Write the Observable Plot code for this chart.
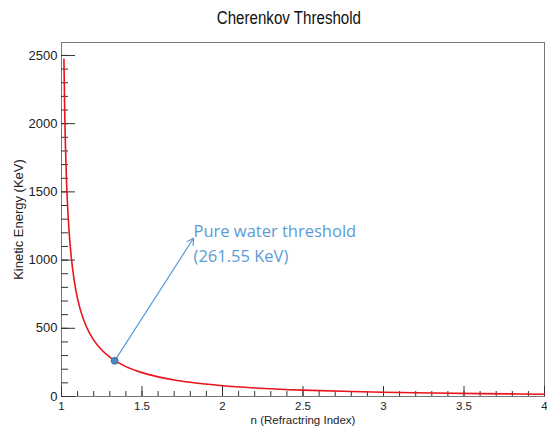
<!DOCTYPE html>
<html><head><meta charset="utf-8">
<script src="https://cdn.jsdelivr.net/npm/d3@7"></script>
<script src="https://cdn.jsdelivr.net/npm/@observablehq/plot@0.6"></script>
<style>
body{margin:0;background:#fff;}
#title{height:30px;line-height:36px;text-align:center;font-family:"Liberation Sans",Arial,sans-serif;font-size:18px;color:#111;padding-left:30px;}
#title span{display:inline-block;transform:scaleX(0.84);}
</style></head><body>
<div id="title"><span>Cherenkov Threshold</span></div>
<div id="chart"></div>
<script>
// Curve values (n, kinetic energy in KeV)
const refractiveIndex = [1.015, 1.02, 1.03, 1.04, 1.05, 1.06, 1.08, 1.1, 1.12, 1.15, 1.2, 1.25, 1.3, 1.35, 1.4, 1.5, 1.6, 1.7, 1.8, 2.0, 2.2, 2.5, 2.8, 3.0, 3.3, 3.6, 4.0];
const kineticEnergy   = [2472, 2082, 1622, 1349, 1165, 1030, 842, 716, 624, 524, 413, 341, 289, 250, 219, 175, 144, 121, 104, 79, 62.7, 46.5, 36.1, 31.0, 25.2, 20.9, 16.8];

const xTicks = [1, 1.5, 2, 2.5, 3, 3.5, 4];
const xMinorTicks = d3.range(1, 4.001, 0.1);
const yTicks = [0, 500, 1000, 1500, 2000, 2500];
const yMinorTicks = d3.range(0, 2501, 100);

// Annotation
const waterN = [1.33];
const waterT = [261.55];
const arrowTipN = [1.82];
const arrowTipT = [1160];
const noteLines = ["Pure water threshold\n(261.55 KeV)"];
const noteN = [1.82];
const noteT = [1298];

const data = refractiveIndex.map((n, i) => ({n, t: kineticEnergy[i]}));
const water = waterN.map((n, i) => ({n, t: waterT[i], n2: arrowTipN[i], t2: arrowTipT[i]}));
const notes = noteLines.map((s, i) => ({s, n: noteN[i], t: noteT[i]}));

const font = '"Liberation Sans",Arial,sans-serif';
const axisColor = "#333";

const plot = Plot.plot({
  width: 547, height: 400,
  marginTop: 12, marginBottom: 34, marginLeft: 61, marginRight: 3,
  style: {fontFamily: font, fontSize: "11.5px", color: "#222", background: "#fff"},
  x: {domain: [1, 4]},
  y: {domain: [0, 2595]},
  marks: [
    Plot.frame({stroke: "#777"}),
    Plot.axisX(xMinorTicks, {tickSize: -5, tickFormat: () => "", label: null, stroke: axisColor}),
    Plot.axisX(xTicks, {tickSize: -10, tickPadding: 15, tickFormat: d => String(d), stroke: axisColor,
      label: "n (Refractring Index)", labelAnchor: "center", labelArrow: "none", labelOffset: 27}),
    Plot.axisY(yMinorTicks, {tickSize: -7, tickFormat: () => "", label: null, stroke: axisColor}),
    Plot.axisY(yTicks, {tickSize: -14, tickPadding: 18, tickFormat: d => String(d), stroke: axisColor,
      label: "Kinetic Energy (KeV)", labelAnchor: "center", labelArrow: "none", labelOffset: 48, fontSize: 13}),
    Plot.line(data, {x: "n", y: "t", stroke: "#e8141b", strokeWidth: 1.6, curve: "monotone-x"}),
    Plot.arrow(water, {x1: "n", y1: "t", x2: "n2", y2: "t2", stroke: "#5b9bd5", strokeWidth: 1.2, headLength: 9}),
    Plot.dot(water, {x: "n", y: "t", r: 3.5, fill: "#4a86c0", stroke: "#2f6aa3", strokeWidth: 0.8}),
    Plot.text(notes, {x: "n", y: "t", text: "s", textAnchor: "start", lineAnchor: "top", lineHeight: 1.5,
      fill: "#5b9bd5", fontSize: 16.5, fontFamily: '"Open Sans","Noto Sans",sans-serif'})
  ]
});
document.getElementById("chart").appendChild(plot);
</script>
</body></html>
